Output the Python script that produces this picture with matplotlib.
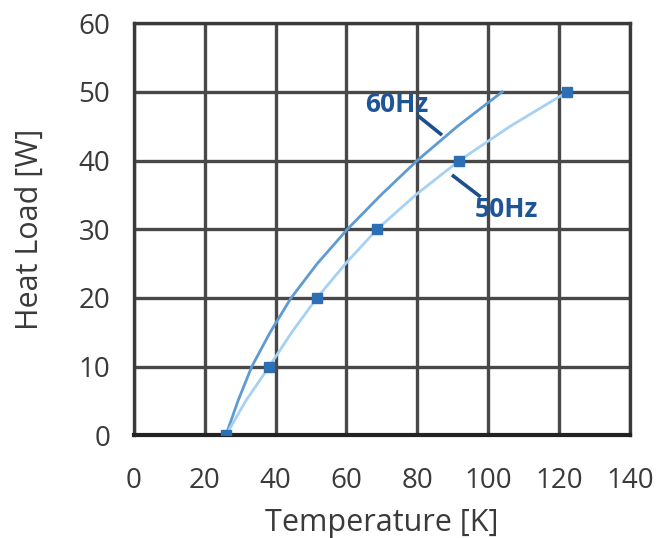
import matplotlib
matplotlib.use("Agg")
import matplotlib.pyplot as plt

plt.rcParams['font.family'] = ['Open Sans', 'DejaVu Sans']

# heat load [W] and temperature [K]
load = [0, 5, 10, 15, 20, 25, 30, 35, 40, 45, 50]
temp_60hz = [26, 29.4, 33.3, 38.5, 44.4, 51.8, 60.3, 69.8, 80, 91.4, 104]
temp_50hz = [26, 31.6, 38.2, 44.6, 51.7, 59.8, 68.7, 79.6, 91.9, 106.3, 122.4]
marker_idx = [0, 2, 4, 6, 8, 10]

x_ticks = [0, 20, 40, 60, 80, 100, 120, 140]
y_ticks = [0, 10, 20, 30, 40, 50, 60]

# label text position, leader line start/end (data coords)
lab_60 = ('60Hz', (74.1, 48.1), (80.0, 46.6), (87.0, 43.7))
lab_50 = ('50Hz', (105.2, 32.8), (89.8, 37.9), (97.9, 34.7))

fig = plt.figure(figsize=(6.56, 5.38), dpi=100)
ax = fig.add_axes([0.204, 0.191, 0.756, 0.766])

grid_c = '#484848'
for xv in x_ticks:
    ax.axvline(xv, color=grid_c, lw=2.4, zorder=1)
for yv in y_ticks:
    ax.axhline(yv, color=grid_c, lw=2.4, zorder=1)

ax.plot(temp_60hz, load, color='#5f9bd3', lw=2.0, zorder=3)
ax.plot(temp_50hz, load, color='#a6d1f2', lw=2.0, zorder=3)
ax.plot([temp_50hz[i] for i in marker_idx], [load[i] for i in marker_idx],
        ls='none', marker='s', ms=6.5, color='#2c6fb4', zorder=4)

for txt, tpos, p0, p1 in (lab_60, lab_50):
    ax.text(tpos[0], tpos[1], txt, ha='center', va='center', fontsize=19,
            fontweight='bold', color='#1f5597', zorder=5)
    ax.plot([p0[0], p1[0]], [p0[1], p1[1]], color='#1c4f8c', lw=2.6,
            solid_capstyle='butt', zorder=5)

ax.set_xlim(0, 140)
ax.set_ylim(0, 60)
ax.set_xticks(x_ticks)
ax.set_yticks(y_ticks)
ax.tick_params(length=0, labelsize=20, colors='#3a3a3a')
ax.tick_params(axis='x', pad=23)
ax.tick_params(axis='y', pad=17)
for s in ax.spines.values():
    s.set_color('#3a3a3a')
    s.set_linewidth(2.4)
ax.spines['bottom'].set_color('#222222')
ax.spines['bottom'].set_linewidth(3)

ax.set_xlabel('Temperature [K]', fontsize=22, color='#3a3a3a', labelpad=9)
ax.set_ylabel('Heat Load [W]', fontsize=22, color='#3a3a3a', labelpad=24)

fig.savefig('out.png', dpi=100)
